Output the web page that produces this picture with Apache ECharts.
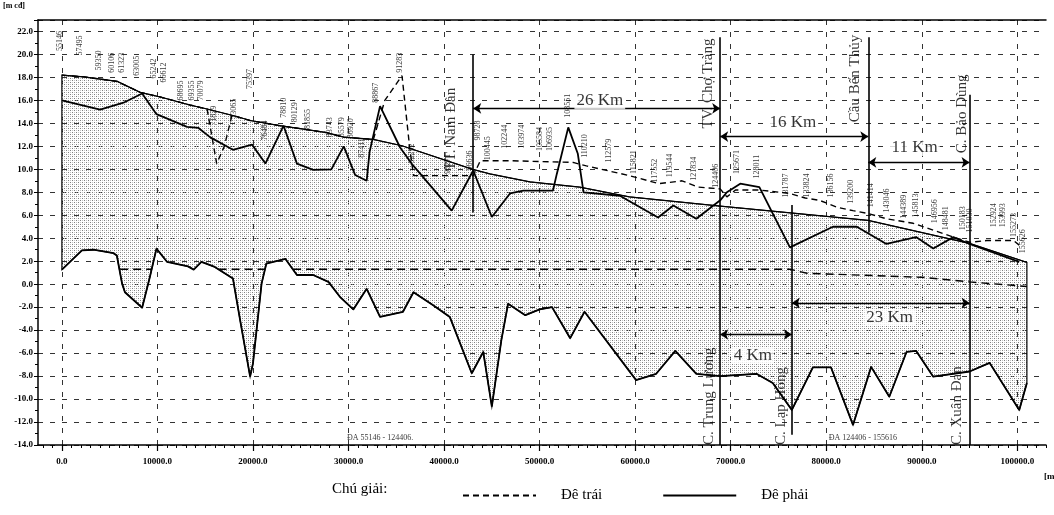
<!DOCTYPE html>
<html><head><meta charset="utf-8">
<script src="https://cdn.jsdelivr.net/npm/echarts@6/dist/echarts.min.js"></script>
<style>html,body{margin:0;padding:0;background:#fff}#c{width:1054px;height:515px}</style>
</head><body><div id="c"></div>
<script>
// ---------- DATA ----------
const xTickValues = [0,10000,20000,30000,40000,50000,60000,70000,80000,90000,100000];
// smooth upper boundary of the shaded section
const topLine = [[0,18.2],[2300,18.05],[5800,17.65],[8200,16.7],[10300,16.3],[13400,15.6],[15200,15.25],[18300,14.6],[19700,14.25],[22800,13.8],[25300,13.5],[27700,13.2],[29500,12.8],[32600,12.6],[35600,12.05],[43000,10.0],[44800,9.6],[49000,8.9],[54200,8.45],[59400,7.6],[68900,6.8],[84400,5.55],[95000,3.55],[101000,1.9]];
// Đê trái (dashed)
const deTrai = [[0,18.2],[2300,18.05],[5800,17.65],[8200,16.7],[10300,16.3],[13400,15.6],[15200,15.25],[16200,10.5],[17000,12.0],[17800,14.7],[19700,14.25],[22800,13.8],[25300,13.5],[27700,13.2],[29500,12.8],[32600,12.6],[33800,16.0],[35600,18.15],[36400,11.9],[36800,9.45],[43050,9.45],[43800,10.75],[46900,10.75],[53500,10.6],[54900,10.3],[59400,9.45],[62500,8.75],[64900,9.0],[66600,8.45],[68900,8.3],[69600,7.6],[70500,8.2],[73000,8.2],[76200,7.9],[77800,7.5],[79300,7.3],[81100,6.7],[82800,6.4],[84400,6.15],[86300,5.7],[89100,5.3],[93300,4.1],[95000,3.65],[96800,3.8],[99600,3.8],[100200,3.4]];
// Đê phải (solid)
const dePhai = [[0,16.0],[4000,15.2],[6450,15.8],[8400,16.6],[9900,14.8],[13100,13.7],[14300,13.6],[15500,12.8],[17900,11.7],[19900,12.15],[21300,10.5],[23200,13.8],[24600,10.5],[26300,9.95],[28200,10.0],[29500,12.0],[30700,9.5],[31900,9.0],[32200,11.5],[33300,15.5],[35400,11.9],[36600,10.5],[40800,6.4],[43050,9.9],[45000,5.85],[46900,7.9],[48300,8.15],[51400,8.15],[51800,9.6],[53000,13.65],[54000,11.35],[54600,8.0],[58400,7.7],[62400,5.8],[64000,6.85],[66400,5.7],[68900,7.3],[69600,8.0],[71000,8.75],[73000,8.45],[76200,3.2],[80700,5.0],[83200,5.0],[86300,3.5],[89400,4.1],[91200,3.1],[93300,4.1],[95000,3.5],[100200,1.95]];
// river bed
const bedLine = [[0,1.27],[2100,2.95],[3300,3.0],[5400,2.7],[5750,2.5],[6300,0.05],[6600,-0.7],[8400,-2.05],[9200,0.6],[9900,3.1],[11000,1.95],[13200,1.55],[13800,1.27],[14600,1.95],[16000,1.5],[17900,0.5],[18650,-3.1],[19700,-8.05],[20000,-6.9],[20900,0.05],[21400,1.8],[23400,2.2],[24600,0.8],[26300,0.8],[27900,0.2],[29100,-1.1],[30500,-2.2],[31900,-0.4],[33300,-2.85],[35700,-2.4],[36800,-0.7],[38900,-1.85],[40600,-2.85],[42900,-7.75],[44100,-5.9],[45000,-10.65],[46000,-4.85],[46700,-1.7],[48500,-2.7],[50000,-2.2],[51300,-2.0],[53200,-4.7],[54700,-2.4],[60100,-8.35],[62200,-7.8],[64200,-5.8],[66400,-7.8],[68900,-8.0],[72700,-7.8],[74400,-8.6],[76400,-10.95],[78600,-7.25],[80500,-7.25],[82800,-12.25],[84700,-7.2],[86600,-9.8],[88400,-5.9],[89400,-5.8],[91200,-8.05],[95000,-7.6],[97100,-6.85],[100200,-10.95],[101000,-8.6]];
// water level (dashed, hidden where bed is higher)
const waterLine = [[6100,1.3],[9400,1.3],[13000,null],[16400,1.3],[21250,1.3],[22500,null],[24200,1.3],[76200,1.3],[78000,0.95],[90000,0.6],[95000,0.2],[101000,-0.2]];
// vertical station markers: [x, top, bottom]
const stationLines = [[43050,20.0,6.25],[68900,21.5,-14],[76400,6.9,-13.1],[84400,21.5,4.5],[95000,16.5,-14]];
// station names: [x, bottomY, text]
const stationNames = [[40770,9.9,'TT. Nam Đàn'],[67600,13.55,'TV. Chợ Tràng'],[83000,14.1,'Cầu Bến Thủy'],[94170,11.4,'C. Bảo Dùng'],[67700,-14.0,'C. Trung Lương'],[75250,-14.0,'C. Lạp Hồng'],[93650,-14.0,'C. Xuân Đan']];
// distance arrows: [x1, x2, y]
const distArrows = [[43050,68900,15.3],[68900,84400,12.85],[84400,95000,10.6],[76400,95000,-1.63],[68900,76400,-4.38]];
// distance texts: [x, y, text]
const distTexts = [[56300,15.97,'26 Km'],[76500,14.06,'16 Km'],[89250,11.9,'11 Km'],[86640,-2.9,'23 Km'],[72310,-6.2,'4 Km']];
// project range notes: [x, y, text]
const notes = [[29840,-13.75,'ĐA 55146 - 124406.'],[80260,-13.75,'ĐA 124406 - 155616']];
// chainage labels: [x, bottomY, text]
const chainLabels = [[-200,20.3,'55146'],[1900,19.9,'57495'],[3900,18.6,'59350'],[5200,18.4,'60106'],[6250,18.4,'61323'],[7800,18.15,'63005'],[9600,17.9,'65242'],[10650,17.55,'66612'],[12500,16.0,'68695'],[13600,16.0,'69355'],[14600,16.0,'70079'],[15900,13.8,'71829'],[18000,14.4,'73065'],[19700,17.0,'75397'],[21300,12.5,'76484'],[23200,14.5,'78810'],[24400,14.1,'80129'],[25800,13.5,'81855'],[28100,12.8,'83743'],[29300,12.8,'85579'],[30300,12.7,'86920'],[31400,11.0,'87411'],[32900,15.8,'88867'],[35400,18.4,'91283'],[36600,10.5,'92292'],[40400,9.6,'95271'],[42700,9.9,'96636'],[43500,12.5,'98728'],[44600,10.8,'100445'],[46350,11.8,'102244'],[48100,11.8,'103974'],[50000,11.6,'105584'],[51100,11.6,'106935'],[53000,14.5,'108551'],[54700,11.0,'110210'],[57250,10.6,'112579'],[59900,9.6,'115821'],[62100,8.85,'117552'],[63600,9.3,'119544'],[66100,9.0,'121834'],[68400,8.4,'124406'],[70700,9.6,'125671'],[72700,9.2,'128011'],[75800,7.55,'131787'],[78000,7.55,'133824'],[80500,7.55,'136156'],[82600,7.0,'139200'],[84700,6.7,'141414'],[86300,6.25,'143046'],[88100,5.7,'144389'],[89400,5.8,'145813'],[91350,5.3,'146956'],[92550,4.7,'148481'],[94300,4.7,'150183'],[95000,4.5,'151030'],[97500,4.95,'152924'],[98500,4.95,'153993'],[99600,4.1,'155273'],[100600,2.7,'155626']];

// ---------- STYLE HELPERS ----------
const SERIF = 'Liberation Serif';
const pc = document.createElement('canvas'); pc.width = 4; pc.height = 4;
const g = pc.getContext('2d');
g.fillStyle = '#808080'; g.fillRect(0,0,1,1); g.fillRect(2,2,1,1);
g.fillStyle = '#c4c4c4'; g.fillRect(2,0,1,1); g.fillRect(0,2,1,1);
const patternFill = {image: pc, repeat: 'repeat'};
const xMinor = []; for (let v = -2000; v <= 103000; v += 1000) xMinor.push(v);
const gridLine = {color:'#333', type:[5,7], width:1};
const noSymbol = {color:'rgba(0,0,0,0)', borderColor:'rgba(0,0,0,0)', borderWidth:0};

const chart = echarts.init(document.getElementById('c'), null, {renderer:'canvas'});
const option = {
  animation:false,
  backgroundColor:'#fff',
  grid:{left:38, right:8, top:20, bottom:70},
  legend:{show:true, left:457, top:483, itemWidth:73, itemHeight:10, itemGap:60,
    data:['Đê trái','Đê phải'],
    itemStyle:noSymbol,
    textStyle:{fontFamily:SERIF, fontSize:15, color:'#000', padding:[0,0,0,20]}},
  graphic:[
    {type:'text', left:332, top:482, style:{text:'Chú giải:', font:'15px "Liberation Serif"', fill:'#000'}},
    {type:'text', left:3, top:2, style:{text:'[m cđ]', font:'bold 8px "Liberation Serif"', fill:'#000'}},
    {type:'text', left:1044, top:472, style:{text:'[m]', font:'bold 9px "Liberation Serif"', fill:'#000'}}
  ],
  xAxis:[
    {type:'value', min:-2500, max:103000, position:'bottom',
     axisLine:{show:true, onZero:false, lineStyle:{color:'#000', width:1.5}},
     axisTick:{show:true, customValues:xTickValues, length:6, lineStyle:{color:'#000', width:1.2}},
     axisLabel:{show:true, customValues:xTickValues, formatter:v=>Number(v).toFixed(1), color:'#000', fontFamily:SERIF, fontSize:9, fontWeight:'bold', margin:12},
     splitLine:{show:true, lineStyle:gridLine}},
    {type:'value', min:-2500, max:103000, position:'bottom',
     axisLine:{show:false, onZero:false},
     axisTick:{show:true, customValues:xMinor, length:3, lineStyle:{color:'#000'}},
     axisLabel:{show:false}, splitLine:{show:false}},
    {type:'value', min:-2500, max:103000, position:'top',
     axisLine:{show:true, onZero:false, lineStyle:{color:'#000', width:1.5}},
     axisTick:{show:false}, axisLabel:{show:false}, splitLine:{show:false}}
  ],
  yAxis:[{type:'value', min:-14, max:23, interval:2, position:'left',
    axisLine:{show:true, onZero:false, lineStyle:{color:'#000', width:1.5}},
    axisTick:{show:true, length:4, lineStyle:{color:'#000'}},
    minorTick:{show:true, splitNumber:2, length:3, lineStyle:{color:'#000'}},
    axisLabel:{showMaxLabel:false, formatter:v=>Number(v).toFixed(1), color:'#000', fontFamily:SERIF, fontSize:9, fontWeight:'bold', margin:5},
    splitLine:{show:true, lineStyle:gridLine}}],
  series:[
    {type:'custom', silent:true, z:1, data:[[0,0]], encode:{x:0,y:1},
     renderItem:(params, api)=>{
       const pts = topLine.map(p=>api.coord(p)).concat(bedLine.slice().reverse().map(p=>api.coord(p)));
       return {type:'polygon', shape:{points:pts}, style:{fill:patternFill, stroke:'#000', lineWidth:1.2}};
     }},
    {type:'line', data:topLine, symbol:'none', silent:true, z:3, lineStyle:{color:'#000', width:1}},
    {type:'line', name:'Đê trái', data:deTrai, symbol:'none', silent:true, z:4, itemStyle:noSymbol, lineStyle:{color:'#000', width:1.4, type:[6,4]}},
    {type:'line', name:'Đê phải', data:dePhai, symbol:'none', silent:true, z:5, itemStyle:noSymbol, lineStyle:{color:'#000', width:1.8}},
    {type:'line', data:bedLine, symbol:'none', silent:true, z:5, lineStyle:{color:'#000', width:1.8},
     markLine:{silent:true, symbol:['none','none'], label:{show:false}, lineStyle:{color:'#000', width:1.6, type:'solid'},
       data: stationLines.map(s=>[{coord:[s[0],s[1]]},{coord:[s[0],s[2]]}])}},
    {type:'line', data:waterLine, symbol:'none', silent:true, z:4, connectNulls:false, lineStyle:{color:'#000', width:1.4, type:[8,5]},
     markLine:{silent:true, symbol:['arrow','arrow'], symbolSize:8, label:{show:false}, lineStyle:{color:'#000', width:1.3, type:'solid'},
       data: distArrows.map(a=>[{coord:[a[0],a[2]]},{coord:[a[1],a[2]]}])}},
    {type:'scatter', silent:true, symbolSize:0, z:6, data:stationNames,
     label:{show:true, position:[0,0], rotate:90, align:'left', verticalAlign:'middle', formatter:p=>p.data[2], fontFamily:SERIF, fontSize:15, color:'#000'}},
    {type:'scatter', silent:true, symbolSize:0, z:6, data:distTexts,
     label:{show:true, position:[0,0], align:'center', verticalAlign:'middle', formatter:p=>p.data[2], fontFamily:SERIF, fontSize:17, color:'#000', backgroundColor:'#fff', padding:[0,2]}},
    {type:'scatter', silent:true, symbolSize:0, z:6, data:notes,
     label:{show:true, position:[0,0], align:'left', verticalAlign:'bottom', formatter:p=>p.data[2], fontFamily:SERIF, fontSize:8, color:'#000'}},
    {type:'scatter', silent:true, symbolSize:0, z:6, data:chainLabels,
     label:{show:true, position:[0,0], rotate:90, align:'left', verticalAlign:'middle', formatter:p=>p.data[2], fontFamily:SERIF, fontSize:8, color:'#000'}}
  ]
};
chart.setOption(option);
</script></body></html>
